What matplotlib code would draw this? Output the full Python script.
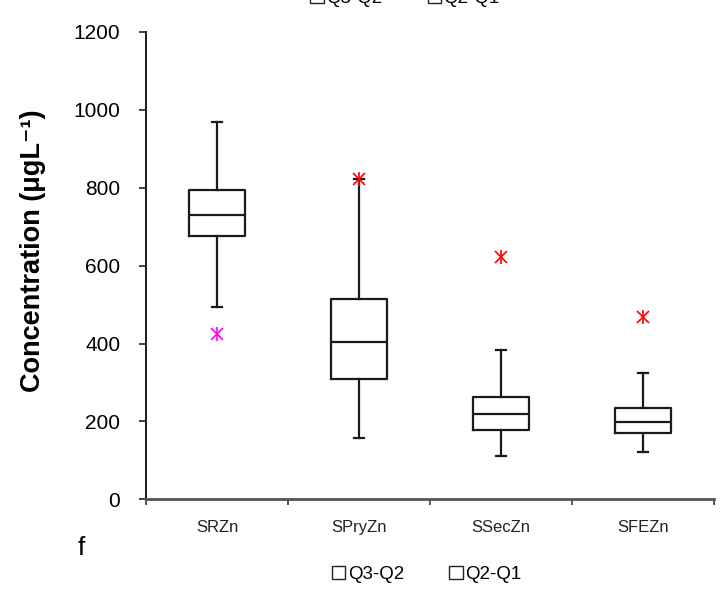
import matplotlib
matplotlib.use("Agg")
import matplotlib.pyplot as plt
from matplotlib.patches import Patch

plt.rcParams["font.family"] = ["Liberation Sans", "DejaVu Sans"]

# Five-number summaries of zinc concentration per fraction
categories = ["SRZn", "SPryZn", "SSecZn", "SFEZn"]
whisker_low = [495, 158, 110, 122]
q1 = [676, 309, 178, 170]
median = [731, 404, 218, 198]
q3 = [794, 514, 262, 234]
whisker_high = [968, 823, 383, 324]
outliers = [424, 823, 622, 467]
outlier_colors = ["#FF00FF", "#FF0000", "#FF0000", "#FF0000"]
legend_labels = ["Q3-Q2", "Q2-Q1"]
y_ticks = [0, 200, 400, 600, 800, 1000, 1200]

fig = plt.figure(figsize=(7.26, 5.89), dpi=100)
ax = fig.add_axes([0.2011, 0.1523, 0.7824, 0.7934])

positions = list(range(1, len(categories) + 1))
stats = [
    dict(med=m, q1=a, q3=b, whislo=lo, whishi=hi, fliers=[], label=c)
    for c, lo, a, m, b, hi in zip(categories, whisker_low, q1, median, q3, whisker_high)
]
line_kw = dict(color="#1a1a1a", linewidth=1.6)
ax.bxp(stats, positions=positions, widths=0.4, showfliers=False,
       boxprops=line_kw, medianprops=line_kw, whiskerprops=line_kw,
       capprops=line_kw, capwidths=0.07)

# Outliers drawn as six-armed stars
for p, v, col in zip(positions, outliers, outlier_colors):
    ax.plot([p], [v], marker="x", markersize=9, mew=1.2, color=col, linestyle="none", zorder=5)
    ax.plot([p], [v], marker="|", markersize=10, mew=1.2, color=col, linestyle="none", zorder=5)

ax.set_xlim(0.5, len(categories) + 0.5)
ax.set_ylim(0, 1200)
ax.set_yticks(y_ticks)
ax.set_yticklabels([str(t) for t in y_ticks], fontsize=15)
ax.tick_params(axis="y", direction="out", length=5, width=1.2, color="#222222", pad=13.5)

# Category boundaries as ticks, names centred beneath each category
ax.set_xticks([p - 0.5 for p in positions] + [positions[-1] + 0.5])
ax.set_xticklabels([])
ax.set_xticks(positions, minor=True)
ax.set_xticklabels(categories, minor=True, fontsize=12, color="#222222")
ax.tick_params(axis="x", which="major", direction="out", length=4, width=1.2, color="#333333")
ax.tick_params(axis="x", which="minor", length=0, pad=15)

for side in ("top", "right"):
    ax.spines[side].set_visible(False)
ax.spines["left"].set_linewidth(1.4)
ax.spines["left"].set_color("#1a1a1a")
ax.spines["bottom"].set_linewidth(2.0)
ax.spines["bottom"].set_color("#555555")

ax.set_ylabel("Concentration (μgL⁻¹)", fontsize=19.5, fontweight="bold")
ax.yaxis.set_label_coords(-0.176, 0.533)

handles = [Patch(facecolor="white", edgecolor="#222222", linewidth=1.0) for _ in legend_labels]
legend_kw = dict(ncol=2, frameon=False, fontsize=13.5, handlelength=0.7, handleheight=0.7,
                 handletextpad=0.15, columnspacing=2.4, loc="center")
fig.legend(handles, legend_labels, bbox_to_anchor=(0.588, 0.025), **legend_kw)
fig.legend(handles, legend_labels, bbox_to_anchor=(0.558, 1.002), **legend_kw)

fig.text(0.107, 0.057, "f", fontsize=19)

fig.savefig("out.png", dpi=100)
